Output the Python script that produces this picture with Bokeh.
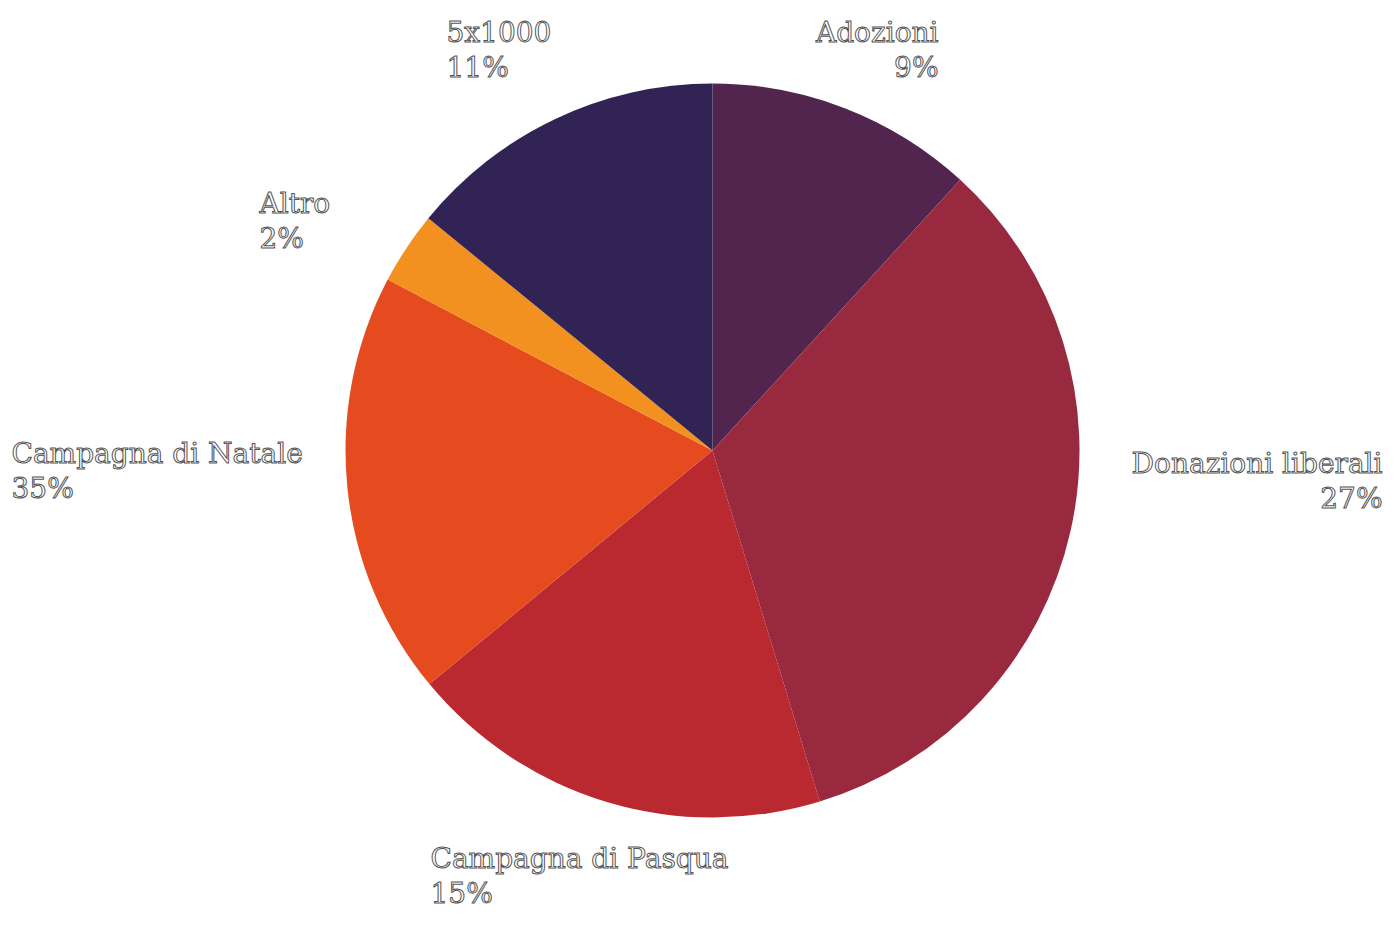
import math
from bokeh.plotting import figure
from bokeh.models import ColumnDataSource, Range1d
from bokeh.core.properties import value
from bokeh.embed import file_html
from bokeh.resources import INLINE

# ---- data ----
categories = ["Adozioni", "Donazioni liberali", "Campagna di Pasqua",
              "Campagna di Natale", "Altro", "5x1000"]
slice_values = [11.8, 33.5, 18.75, 18.7, 3.2, 14.1]
pct_labels = ["9%", "27%", "15%", "35%", "2%", "11%"]
colors = ["#52254F", "#98293E", "#BA2830", "#E54B1E", "#F29120", "#312455"]

# ---- layout ----
W, H = 1384, 913
cx, cy, R = 712, H - 450, 367
# label anchor (screen px: x, first baseline y), alignment
label_pos = [(938, 32, "right"), (1382, 463, "right"), (430, 858, "left"),
             (11, 453, "left"), (259, 203, "left"), (446, 32, "left")]
line_gap = 35

total = sum(slice_values)
starts, ends = [], []
cum = 0.0
for v in slice_values:
    starts.append(math.pi / 2 - cum / total * 2 * math.pi)
    cum += v
    ends.append(math.pi / 2 - cum / total * 2 * math.pi)

src = ColumnDataSource(dict(x=[cx] * len(categories), y=[cy] * len(categories),
                            start=starts, end=ends, color=colors, cat=categories))

p = figure(width=W, height=H, output_backend="svg", toolbar_location=None,
           x_range=Range1d(0, W), y_range=Range1d(0, H), min_border=0)
p.axis.visible = False
p.grid.visible = False
p.outline_line_color = None
p.background_fill_color = "white"

p.wedge(x="x", y="y", radius=R, start_angle="start", end_angle="end",
        direction="clock", fill_color="color", line_color=None, source=src)

tx, ty, tt, ta = [], [], [], []
for cat, pct, (ix, iy, al) in zip(categories, pct_labels, label_pos):
    for k, s in enumerate([cat, pct]):
        tx.append(ix)
        ty.append(H - (iy + k * line_gap))
        tt.append(s)
        ta.append(al)

tsrc = ColumnDataSource(dict(x=tx, y=ty, t=tt, a=ta))
p.text(x="x", y="y", text="t", text_align="a", text_baseline="alphabetic",
       text_font=value("DejaVu Serif"), text_font_size="28px",
       text_color="white", text_outline_color="#555555", source=tsrc)

open("out.html", "w").write(file_html(p, INLINE))
